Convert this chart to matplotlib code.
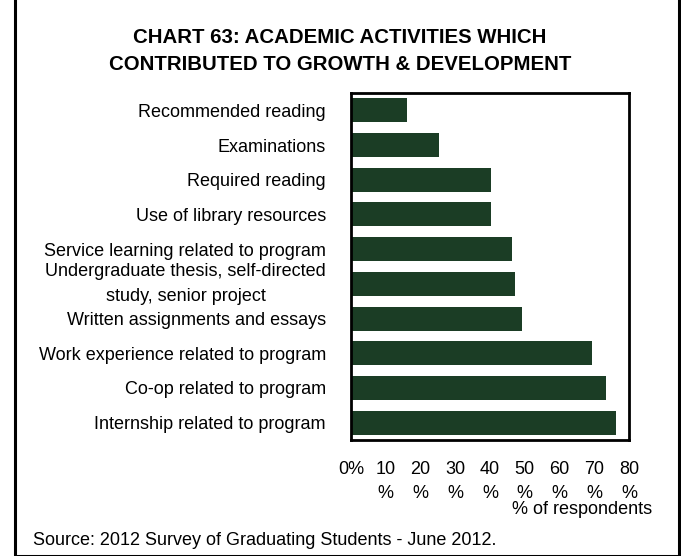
import matplotlib
matplotlib.use("Agg")
import matplotlib.pyplot as plt
from matplotlib.patches import Rectangle
from matplotlib.ticker import FuncFormatter

plt.rcParams['font.family'] = ['Liberation Sans', 'DejaVu Sans']

# data, top to bottom as shown in the chart
activities = [
    'Recommended reading',
    'Examinations',
    'Required reading',
    'Use of library resources',
    'Service learning related to program',
    'Undergraduate thesis, self-directed\nstudy, senior project',
    'Written assignments and essays',
    'Work experience related to program',
    'Co-op related to program',
    'Internship related to program',
]
pct_respondents = [16.1, 25.3, 40.3, 40.3, 46.3, 47.2, 49.2, 69.4, 73.4, 76.3]
x_ticks = [0, 10, 20, 30, 40, 50, 60, 70, 80]

W, H = 681, 556
FS = 13
fig = plt.figure(figsize=(W / 100, H / 100), dpi=100)
fig.patch.set_facecolor('white')

# outer frame
fig.patches.append(Rectangle((15 / W, 0 / H), (679 - 15) / W, (H - 8.5) / H + 0.02,
                             transform=fig.transFigure, fill=False,
                             edgecolor='black', linewidth=2.2, clip_on=False))

ax = fig.add_axes([351 / W, 1 - 440 / H, (629 - 351) / W, (440 - 93) / H])
pos = list(range(len(activities)))
ax.barh(pos, pct_respondents, height=0.69, color='#1b3d25')
ax.set_ylim(len(activities) - 0.5, -0.5)
ax.set_xlim(0, 80)
ax.set_yticks(pos)
ax.set_yticklabels(activities, fontsize=FS, multialignment='center')
for lab in ax.get_yticklabels():
    lab.set_linespacing(1.62)
    if '\n' in lab.get_text():
        lab.set_verticalalignment('center')
ax.set_xticks(x_ticks)
ax.xaxis.set_major_formatter(FuncFormatter(lambda v, p: '0%' if v == 0 else f'{int(v)}\n%'))
for lab in ax.get_xticklabels():
    lab.set_fontsize(FS)
    lab.set_linespacing(1.55)
ax.tick_params(axis='y', length=0, pad=18)
ax.tick_params(axis='x', length=0, pad=15)
for s in ax.spines.values():
    s.set_linewidth(2)
    s.set_color('black')

fig.text(340 / W, 1 - 37.5 / H, 'CHART 63: ACADEMIC ACTIVITIES WHICH',
         ha='center', va='center', fontsize=14.7, fontweight='bold')
fig.text(340 / W, 1 - 64.5 / H, 'CONTRIBUTED TO GROWTH & DEVELOPMENT',
         ha='center', va='center', fontsize=14.7, fontweight='bold')

fig.text(652 / W, (H - 514) / H, '% of respondents', ha='right', va='baseline', fontsize=FS)
fig.text(33 / W, (H - 545) / H, 'Source: 2012 Survey of Graduating Students - June 2012.',
         ha='left', va='baseline', fontsize=FS)

fig.savefig('out.png', dpi=100)
